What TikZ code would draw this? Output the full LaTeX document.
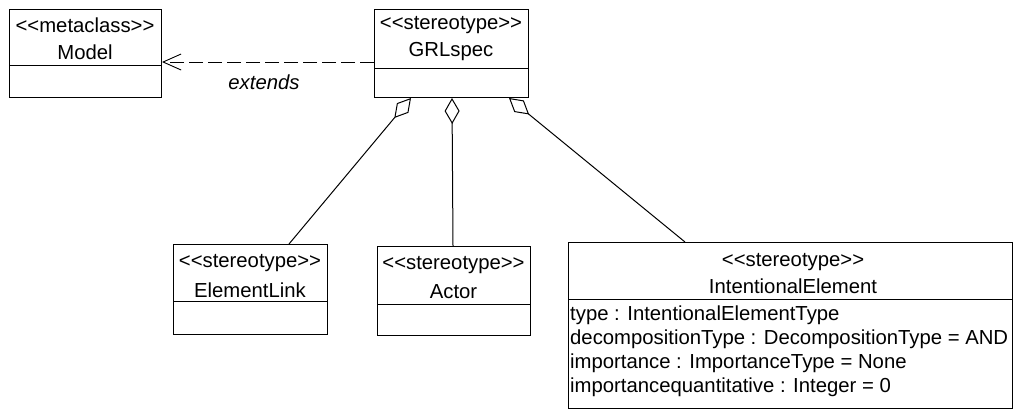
\documentclass[tikz,border=0pt]{standalone}
\usepackage{fontspec}
\setmainfont{Liberation Sans}
\usetikzlibrary{arrows.meta}
\begin{document}
\begin{tikzpicture}[x=1pt,y=-1pt,
  every node/.style={font=\fontsize{20.3}{24}\selectfont, inner sep=0pt},
  classbox/.style={draw, line width=1pt, anchor=north west, inner sep=0pt},
  divider/.style={line width=1pt},
  txt/.style={anchor=center},
  attr/.style={anchor=west},
  agg/.style={line width=1pt, {Diamond[open,length=26pt,width=15pt,line width=1pt]}-},
  ext/.style={line width=0.9pt, dash pattern=on 14pt off 5pt, -{Straight Barb[length=18pt,width=16pt,line width=0.9pt]}}
]
\useasboundingbox (0,0) rectangle (1017,410);

% Model
\node[classbox, minimum width=152pt, minimum height=88pt] (model) at (9,9) {};
\draw[divider] ([yshift=-56pt]model.north west) -- ([yshift=-56pt]model.north east);
\node[txt] (modelst) at (85,25) {<{}<metaclass>{}>};
\node[txt] (modelnm) at (85,52) {Model};

% GRLspec
\node[classbox, minimum width=154pt, minimum height=88pt] (grl) at (374,9) {};
\draw[divider] ([yshift=-59pt]grl.north west) -- ([yshift=-59pt]grl.north east);
\node[txt] (grlst) at (451,25) {<{}<stereotype>{}>};
\node[txt] (grlnm) at (451,52) {GRLspec};

% ElementLink
\node[classbox, minimum width=154pt, minimum height=90pt] (el) at (173,244) {};
\draw[divider] ([yshift=-57pt]el.north west) -- ([yshift=-57pt]el.north east);
\node[txt] (elst) at (250,263) {<{}<stereotype>{}>};
\node[txt] (elnm) at (250,290) {ElementLink};

% Actor
\node[classbox, minimum width=153pt, minimum height=89pt] (actor) at (377,246) {};
\draw[divider] ([yshift=-58pt]actor.north west) -- ([yshift=-58pt]actor.north east);
\node[txt] (acst) at (453.5,265) {<{}<stereotype>{}>};
\node[txt] (acnm) at (453.5,292) {Actor};

% IntentionalElement
\node[classbox, minimum width=444pt, minimum height=166pt] (ie) at (568,242) {};
\draw[divider] ([yshift=-57pt]ie.north west) -- ([yshift=-57pt]ie.north east);
\node[txt] (iest) at (793,262) {<{}<stereotype>{}>};
\node[txt] (ienm) at (793,286) {IntentionalElement};
\node[attr] (a1) at (570,315) {type : IntentionalElementType};
\node[attr] (a2) at (570,339) {decompositionType : DecompositionType = AND};
\node[attr] (a3) at (570,363) {importance : ImportanceType = None};
\node[attr] (a4) at (570,387) {importancequantitative : Integer = 0};

% extends
\draw[ext] ([yshift=-53pt]grl.north west) -- ([yshift=-53pt]model.north east);
\node[font=\fontsize{20.3}{24}\selectfont\itshape] (extlbl) at (264,82) {extends};

% aggregations
\draw[agg] ([xshift=37pt]grl.south west) -- ([xshift=116pt]el.north west);
\draw[agg] ([xshift=78pt]grl.south west) -- ([xshift=76pt]actor.north west);
\draw[agg] ([xshift=135pt]grl.south west) -- ([xshift=117pt]ie.north west);
\end{tikzpicture}
\end{document}
